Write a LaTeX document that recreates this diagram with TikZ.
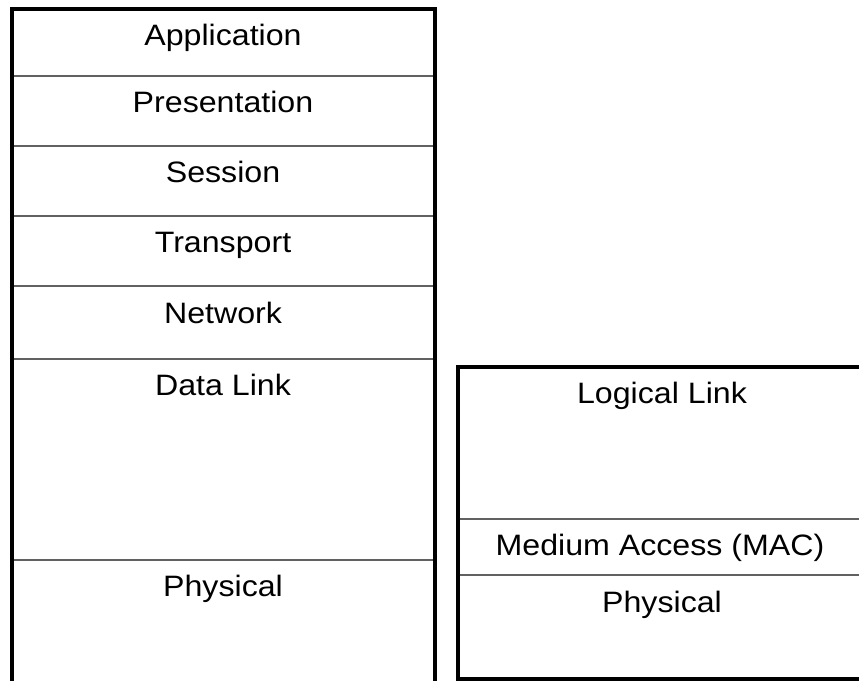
\documentclass[tikz,border=0pt]{standalone}
\usepackage{fontspec}
\setmainfont{Liberation Sans}
\usepackage{graphicx}
\begin{document}
\begin{tikzpicture}[x=1pt,y=-1pt,
  frame/.style={line width=4pt,black},
  divider/.style={line width=2pt,black!62},
  lbl/.style={anchor=base,inner sep=0pt,font=\fontsize{29.5}{32}\selectfont}]
\useasboundingbox (0,0) rectangle (859,680);
\clip (0,0) rectangle (859,680);
\fill[white] (0,0) rectangle (859,680);
% left stack dividers
\foreach \y in {76,145.5,216,286,359,560}
  \draw[divider] (11.5,\y) -- (434.5,\y);
% right stack dividers
\foreach \y in {519,575}
  \draw[divider] (457.5,\y) -- (870,\y);
% frames
\draw[frame] (11.5,700) -- (11.5,8.5) -- (434.5,8.5) -- (434.5,700);
\draw[frame] (870,366.5) -- (457.5,366.5) -- (457.5,679) -- (870,679);
% labels
\newcommand{\sx}[1]{\scalebox{1.09}[1]{#1}}
\node[lbl] (app) at (223,45) {\sx{Application}};
\node[lbl] (pre) at (223,112.5) {\sx{Presentation}};
\node[lbl] (ses) at (223,182) {\sx{Session}};
\node[lbl] (tra) at (223,252) {\sx{Transport}};
\node[lbl] (net) at (223,323) {\sx{Network}};
\node[lbl] (dl) at (223,395) {\sx{Data Link}};
\node[lbl] (phy) at (223,596) {\sx{Physical}};
\node[lbl] (llc) at (662,403) {\sx{Logical Link}};
\node[lbl] (mac) at (660,555) {\sx{Medium Access (MAC)}};
\node[lbl] (phy2) at (662,612) {\sx{Physical}};
\end{tikzpicture}
\end{document}
